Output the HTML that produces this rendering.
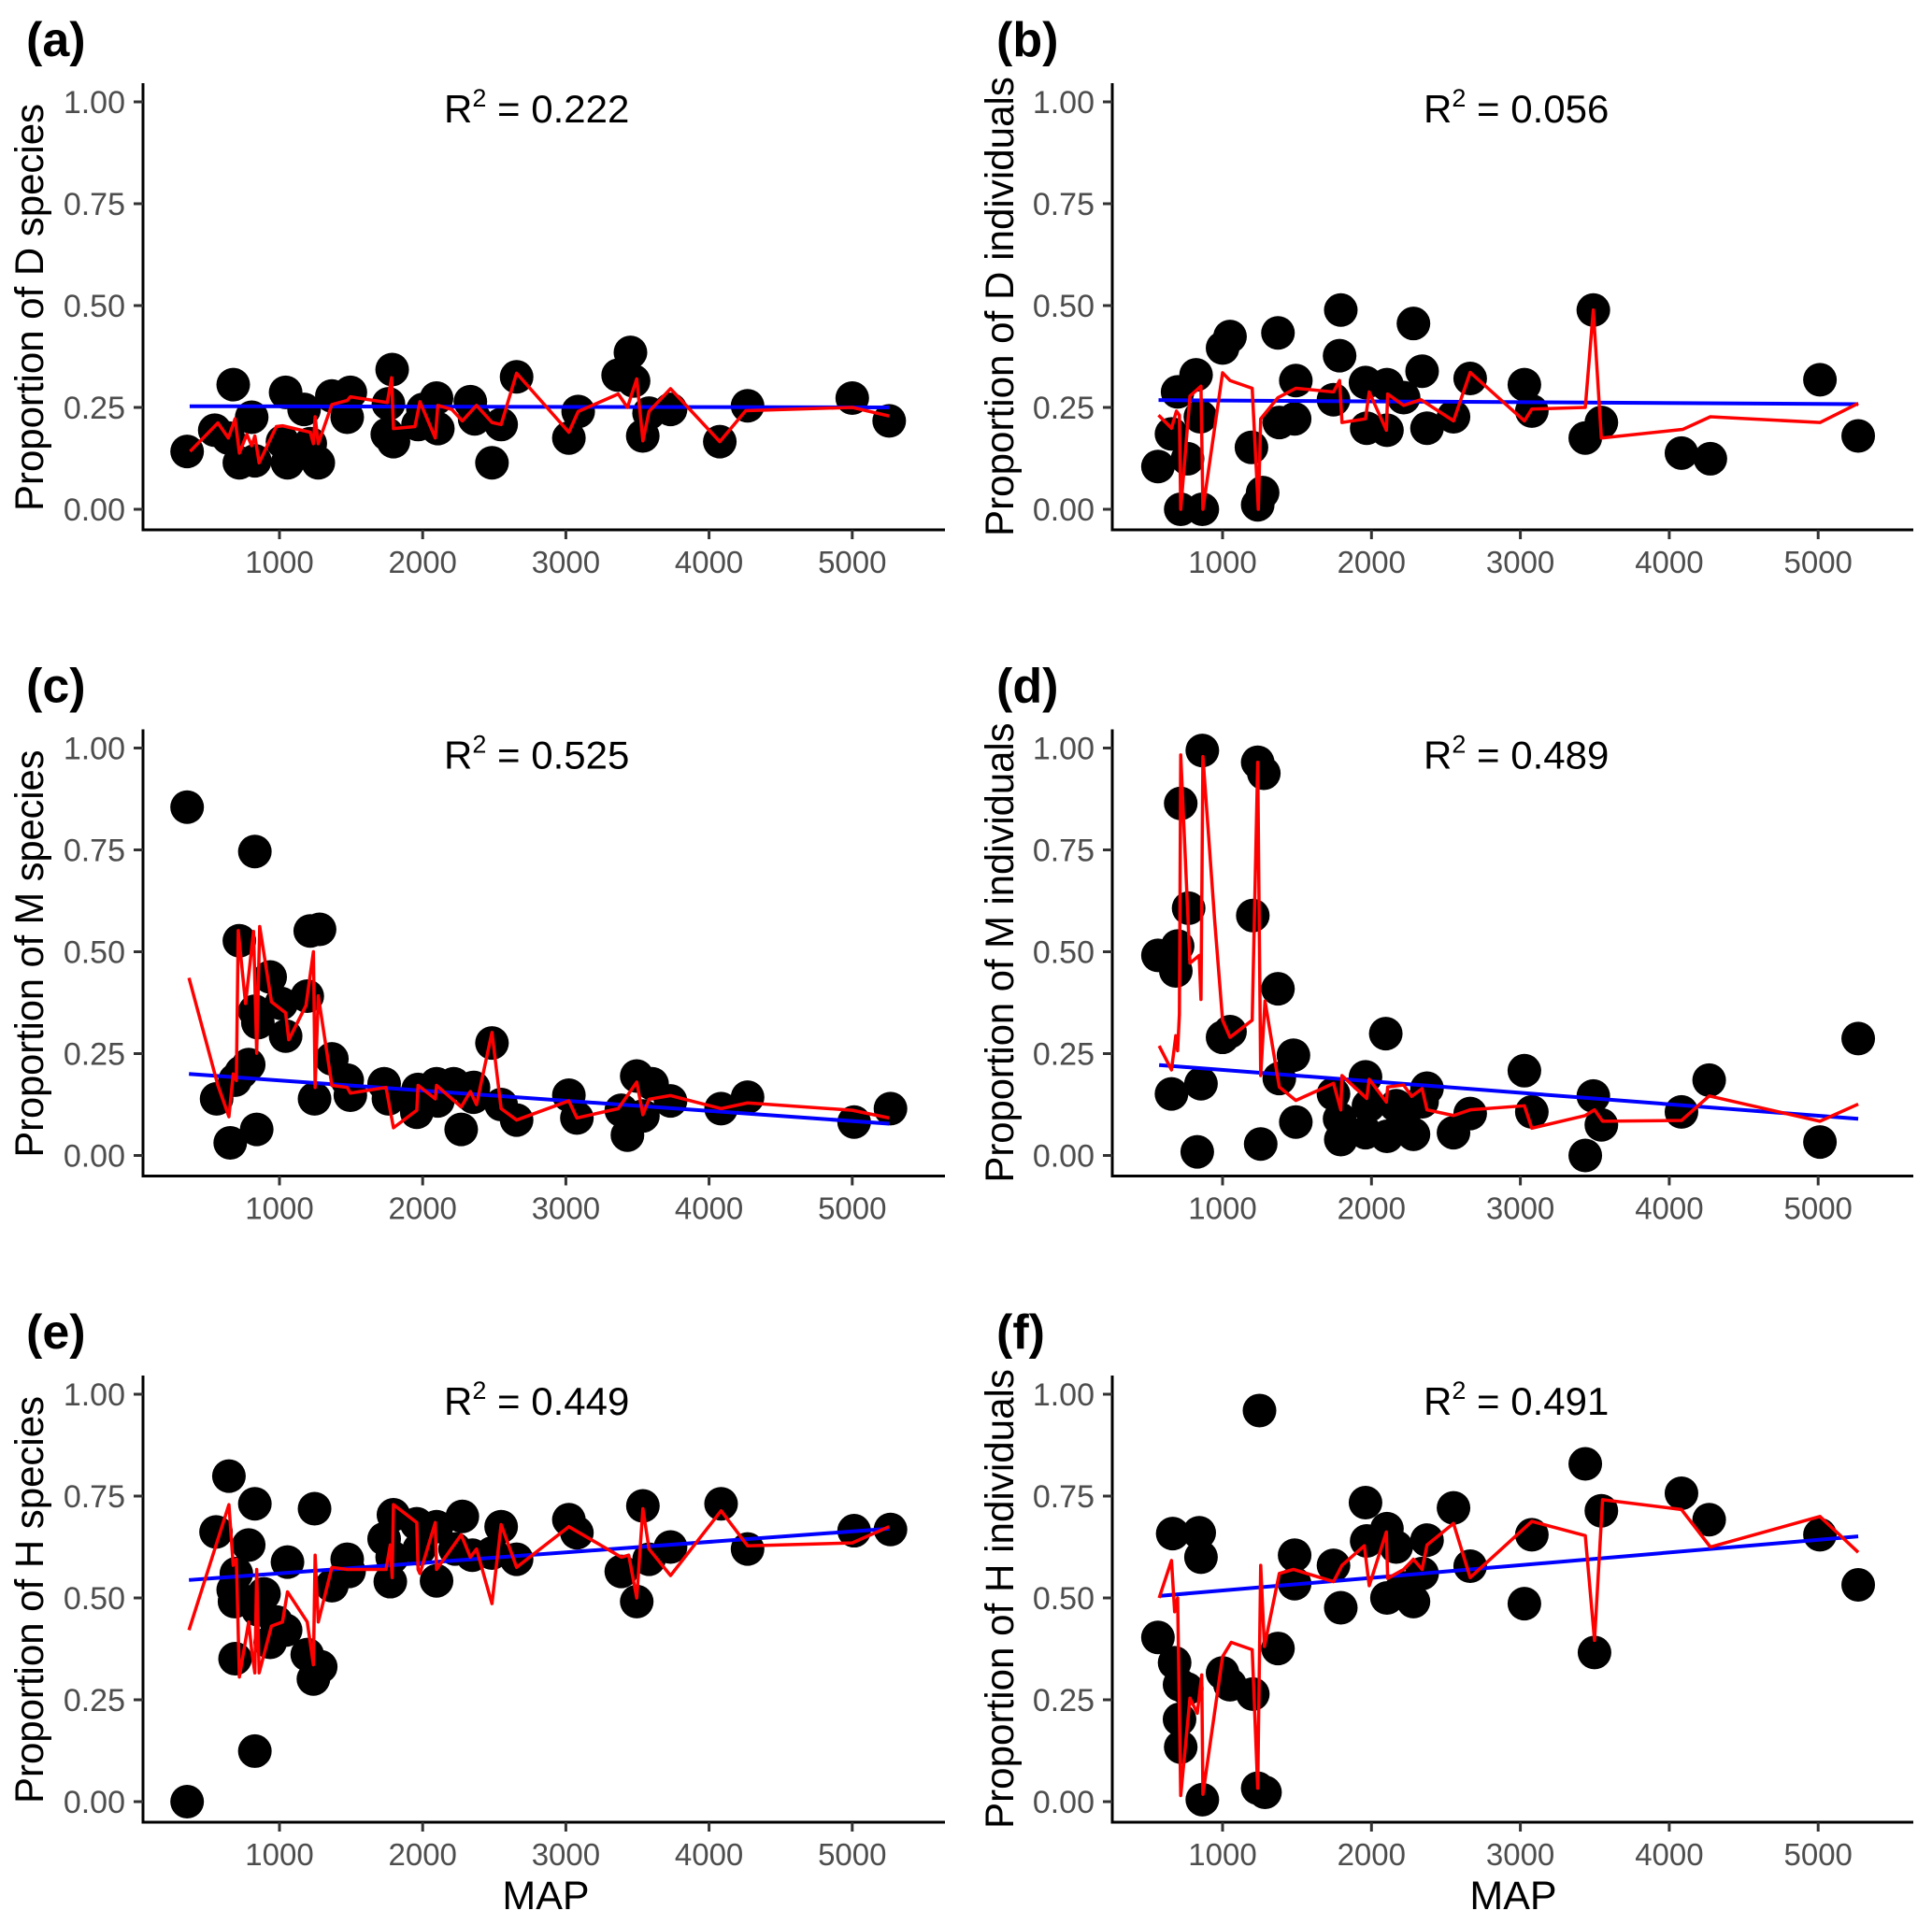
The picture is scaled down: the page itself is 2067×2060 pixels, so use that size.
<!DOCTYPE html>
<html><head><meta charset="utf-8"><style>
html,body{margin:0;padding:0;background:#fff;}
svg{display:block;}
text{font-family:"Liberation Sans",Arial,sans-serif;}
</style></head><body>
<svg id="fig" xmlns="http://www.w3.org/2000/svg" width="2067" height="2060" viewBox="0 0 2067 2060"></svg>
<script>
// ---- data (MAP, proportion) ----
const yTicks=[0,0.25,0.5,0.75,1];
const yTickLabels=["0.00","0.25","0.50","0.75","1.00"];
const xTicks=[1000,2000,3000,4000,5000];
const xTickLabels=["1000","2000","3000","4000","5000"];
const panelLabels=["(a)","(b)","(c)","(d)","(e)","(f)"];
const yTitles=["Proportion of D species","Proportion of D individuals","Proportion of M species","Proportion of M individuals","Proportion of H species","Proportion of H individuals"];
const r2Values=["0.222","0.056","0.525","0.489","0.449","0.491"];

const aMap=[355,548,677,643,720,806,828,1043,1021,1056,1172,1215,1271,1366,1495,1473,1753,1787,1761,1796,1968,2002,2097,2106,2333,2363,2484,2548,2656,3021,3086,3365,3451,3473,3581,3537,3731,4075,4269,5000,5258];
const aVal=[.142,.194,.306,.175,.114,.226,.119,.287,.166,.114,.245,.161,.114,.278,.287,.226,.184,.343,.259,.166,.208,.245,.273,.198,.264,.222,.114,.208,.325,.175,.240,.329,.385,.315,.236,.180,.245,.166,.254,.273,.217];
const aRedMap=[376,570,643,690,720,772,806,828,858,978,1021,1215,1237,1249,1271,1366,1473,1495,1753,1783,1796,1946,1981,2088,2106,2204,2277,2376,2484,2548,2656,3021,3086,3366,3430,3495,3538,3581,3731,4075,4256,5000,5258];
const aRedVal=[.142,.212,.175,.222,.138,.184,.156,.180,.114,.203,.205,.189,.161,.227,.161,.257,.267,.276,.262,.323,.198,.203,.264,.175,.255,.245,.217,.255,.213,.208,.334,.189,.240,.283,.250,.320,.168,.240,.296,.166,.242,.250,.229];
const aFitMap=[373,5258];const aFitVal=[.253,.250];

const bMap=[566,657,698,719,765,822,851,864,1000,1050,1194,1236,1269,1372,1381,1484,1492,1745,1786,1794,1960,1968,2104,2104,2216,2282,2340,2373,2551,2663,3027,3077,3436,3490,3544,4082,4276,5012,5269];
const bVal=[.105,.185,.288,0,.124,.330,.227,0,.396,.424,.152,.011,.041,.433,.213,.222,.316,.269,.377,.489,.311,.199,.306,.194,.274,.456,.339,.199,.227,.321,.306,.241,.175,.489,.213,.138,.124,.318,.180];
const bRedMap=[570,657,690,710,719,781,855,868,1000,1050,1199,1240,1256,1372,1492,1745,1786,1802,1960,1985,2100,2109,2216,2332,2551,2663,3027,3077,3436,3490,3544,4090,4276,5012,5269];
const bRedVal=[.231,.199,.241,.231,0,.278,.302,0,.335,.316,.297,0,.222,.274,.297,.288,.316,.213,.222,.288,.194,.283,.255,.269,.217,.336,.217,.246,.250,.489,.175,.196,.227,.213,.260];
const bFitMap=[570,5269];const bFitVal=[.268,.258];

const cMap=[355,561,656,690,720,733,785,828,841,828,849,935,1013,1043,1194,1215,1280,1245,1366,1473,1495,1731,1761,1959,1968,2097,2106,2217,2269,2355,2355,2484,2548,2656,3021,3077,3387,3430,3495,3538,3602,3731,4084,4269,5013,5267];
const cVal=[.855,.139,.031,.185,.527,.204,.223,.746,.064,.354,.326,.438,.373,.293,.391,.551,.555,.139,.237,.185,.148,.176,.139,.106,.162,.176,.134,.176,.064,.167,.143,.276,.125,.087,.148,.092,.111,.050,.195,.097,.176,.134,.115,.143,.082,.115];
const cRedMap=[368,570,647,677,699,712,763,819,841,862,944,1043,1065,1185,1237,1249,1271,1366,1473,1495,1744,1796,1959,1968,2088,2097,2269,2333,2376,2484,2548,2656,3021,3077,3366,3495,3538,3581,3731,4084,4269,5000,5258];
const cRedVal=[.436,.172,.095,.200,.184,.552,.373,.550,.251,.562,.377,.350,.284,.368,.500,.167,.392,.172,.167,.153,.167,.068,.111,.172,.139,.172,.119,.157,.125,.302,.115,.087,.134,.092,.115,.180,.100,.138,.147,.115,.129,.111,.092];
const cFitMap=[368,5258];const cFitVal=[.200,.078];

const dMap=[566,657,698,686,719,772,830,855,864,1000,1050,1203,1236,1277,1256,1372,1381,1476,1492,1745,1786,1794,1960,1960,1980,2096,2104,2166,2216,2282,2340,2373,2551,2663,3027,3077,3436,3490,3544,4082,4268,5012,5269];
const dVal=[.491,.151,.514,.453,.864,.607,.009,.176,.994,.290,.304,.589,.965,.938,.028,.409,.189,.246,.082,.151,.090,.039,.193,.056,.122,.299,.047,.122,.094,.052,.132,.165,.056,.103,.208,.107,0,.146,.075,.107,.185,.033,.287];
const dRedMap=[574,657,686,698,710,719,781,843,855,868,946,1000,1050,1199,1236,1256,1285,1381,1492,1745,1794,1802,1968,1985,2100,2109,2216,2270,2340,2373,2551,2663,3027,3077,3436,3498,3552,4082,4268,5012,5269];
const dRedVal=[.269,.210,.294,.257,.346,.983,.472,.491,.383,.979,.581,.332,.290,.332,.965,.196,.379,.168,.135,.177,.112,.196,.140,.187,.131,.168,.173,.145,.164,.112,.098,.112,.122,.067,.098,.112,.084,.086,.146,.084,.126];
const dFitMap=[574,5269];const dFitVal=[.222,.090];

const eMap=[355,557,647,677,690,699,686,785,828,828,849,892,935,978,1043,1056,1194,1237,1245,1288,1366,1473,1486,1731,1774,1796,1787,1959,1976,2097,2097,2226,2277,2346,2484,2548,2656,3021,3077,3387,3495,3538,3581,3731,4084,4269,5013,5267];
const eVal=[0,.662,.799,.520,.351,.560,.491,.630,.124,.731,.471,.510,.391,.441,.421,.588,.361,.301,.719,.331,.530,.595,.565,.645,.540,.704,.600,.682,.620,.675,.542,.620,.700,.605,.610,.675,.595,.692,.660,.565,.491,.726,.595,.625,.731,.620,.665,.668];
const eRedMap=[368,647,677,699,720,785,806,828,841,858,944,1021,1056,1194,1237,1249,1271,1366,1473,1744,1774,1787,1796,1959,1968,1981,2088,2097,2269,2333,2376,2484,2548,2656,3021,3387,3439,3495,3538,3581,3731,4084,4269,5000,5258];
const eRedVal=[.421,.729,.580,.595,.306,.441,.371,.316,.570,.316,.431,.441,.515,.441,.336,.605,.441,.575,.570,.570,.630,.550,.729,.685,.570,.560,.685,.570,.655,.600,.620,.486,.680,.575,.675,.600,.605,.500,.719,.620,.555,.714,.628,.635,.675];
const eFitMap=[368,5258];const eFitVal=[.544,.670];

const fMap=[566,665,678,711,711,719,760,843,855,864,1000,1050,1203,1248,1236,1285,1372,1484,1484,1745,1794,1960,1968,2104,2104,2166,2207,2282,2340,2373,2551,2663,3027,3077,3436,3498,3544,4082,4268,5012,5269];
const fVal=[.403,.658,.341,.287,.202,.134,.277,.660,.600,.005,.316,.287,.264,.960,.033,.023,.376,.605,.535,.580,.476,.734,.640,.670,.500,.625,.525,.491,.560,.642,.721,.578,.486,.655,.829,.366,.714,.757,.692,.655,.532];
const fRedMap=[574,657,678,698,719,781,830,860,868,1000,1058,1199,1236,1256,1281,1381,1476,1745,1802,1952,1985,2100,2109,2216,2282,2340,2373,2551,2663,3077,3436,3498,3552,4082,4276,5012,5269];
const fRedVal=[.500,.592,.466,.500,.015,.254,.217,.311,.018,.356,.391,.373,.033,.580,.381,.560,.570,.540,.580,.628,.530,.662,.548,.570,.595,.570,.630,.683,.550,.688,.653,.396,.741,.717,.625,.700,.612];
const fFitMap=[574,5269];const fFitVal=[.505,.651];

const ptsMap=[aMap,bMap,cMap,dMap,eMap,fMap];
const ptsVal=[aVal,bVal,cVal,dVal,eVal,fVal];
const redMap=[aRedMap,bRedMap,cRedMap,dRedMap,eRedMap,fRedMap];
const redVal=[aRedVal,bRedVal,cRedVal,dRedVal,eRedVal,fRedVal];
const fitMap=[aFitMap,bFitMap,cFitMap,dFitMap,eFitMap,fFitMap];
const fitVal=[aFitVal,bFitVal,cFitVal,dFitVal,eFitVal,fFitVal];

const NS="http://www.w3.org/2000/svg";
const svg=document.getElementById('fig');
function mk(tag,parent){const e=document.createElementNS(NS,tag);parent.appendChild(e);return e;}

for(let p=0;p<6;p++){
  const col=p%2,row=Math.floor(p/2);
  const oy=row*691.5;
  const axX=col?1190:153, axRight=col?2047:1011;
  const x1000=col?1308:299, perK=col?159.3:153.2;
  const y0=545+oy, unit=436, axY=567+oy, axTop=89+oy;
  const sx=m=>x1000+(m-1000)*perK/1000;
  const sy=v=>y0-v*unit;
  const g=mk('g',svg);
  
  

  const lab=mk('text',g);
  
  
  lab.setAttribute('x',col?1066:28);lab.setAttribute('y',60+oy);
  lab.setAttribute('font-size','52');lab.setAttribute('font-weight','bold');
  lab.textContent=panelLabels[p];

  const ax=mk('path',g);
  
  
  ax.setAttribute('d',`M${axX},${axTop}V${axY}H${axRight}`);
  ax.setAttribute('stroke','#000');ax.setAttribute('stroke-width','3');ax.setAttribute('fill','none');

  for(let i=0;i<yTicks.length;i++){
    const y=sy(yTicks[i]);
    const t=mk('line',g);
    
    
    t.setAttribute('x1',axX-10);t.setAttribute('x2',axX);t.setAttribute('y1',y);t.setAttribute('y2',y);
    t.setAttribute('stroke','#333');t.setAttribute('stroke-width','3');
    const tl=mk('text',g);
    
    
    tl.setAttribute('x',axX-19);tl.setAttribute('y',y+12);tl.setAttribute('text-anchor','end');
    tl.setAttribute('font-size','34');tl.setAttribute('fill','#4d4d4d');
    tl.textContent=yTickLabels[i];
  }
  for(let i=0;i<xTicks.length;i++){
    const x=sx(xTicks[i]);
    const t=mk('line',g);
    
    
    t.setAttribute('x1',x);t.setAttribute('x2',x);t.setAttribute('y1',axY);t.setAttribute('y2',axY+10);
    t.setAttribute('stroke','#333');t.setAttribute('stroke-width','3');
    const tl=mk('text',g);
    
    
    tl.setAttribute('x',x);tl.setAttribute('y',axY+46);tl.setAttribute('text-anchor','middle');
    tl.setAttribute('font-size','33');tl.setAttribute('fill','#4d4d4d');
    tl.textContent=xTickLabels[i];
  }
  const yt=mk('text',g);
  
  
  const tx=col?1084:46, tcy=col?328+oy:329+oy;
  yt.setAttribute('transform',`translate(${tx},${tcy}) rotate(-90)`);
  yt.setAttribute('text-anchor','middle');yt.setAttribute('font-size','43');
  yt.setAttribute('textLength',col?492:436);yt.setAttribute('lengthAdjust','spacingAndGlyphs');
  yt.textContent=yTitles[p];

  if(row===2){
    const xt=mk('text',g);
    
    
    xt.setAttribute('x',col?1619:584);xt.setAttribute('y',2043);xt.setAttribute('text-anchor','middle');
    xt.setAttribute('font-size','43');
    xt.textContent='MAP';
  }

  const r2=mk('text',g);
  
  
  r2.setAttribute('x',col?1523:475);r2.setAttribute('y',131+oy);r2.setAttribute('font-size','42');
  const rs=mk('tspan',r2);rs.textContent='R';
  const sup=mk('tspan',r2);sup.setAttribute('font-size','27');sup.setAttribute('dy','-17');sup.textContent='2';
  const rest=mk('tspan',r2);rest.setAttribute('dy','17');rest.textContent=' = '+r2Values[p];

  const pts=mk('g',g);
  
  
  for(let i=0;i<ptsMap[p].length;i++){
    const c=mk('circle',pts);
    
    
    c.setAttribute('cx',sx(ptsMap[p][i]));c.setAttribute('cy',sy(ptsVal[p][i]));c.setAttribute('r','18');
  }
  const fit=mk('polyline',g);
  
  
  fit.setAttribute('points',fitMap[p].map((m,i)=>sx(m)+','+sy(fitVal[p][i])).join(' '));
  fit.setAttribute('stroke','#0000ff');fit.setAttribute('stroke-width','4');fit.setAttribute('fill','none');

  const red=mk('polyline',g);
  
  
  red.setAttribute('points',redMap[p].map((m,i)=>sx(m)+','+sy(redVal[p][i])).join(' '));
  red.setAttribute('stroke','#ff0000');red.setAttribute('stroke-width','3.5');red.setAttribute('fill','none');
  red.setAttribute('stroke-linejoin','round');
}
</script>
</body></html>
